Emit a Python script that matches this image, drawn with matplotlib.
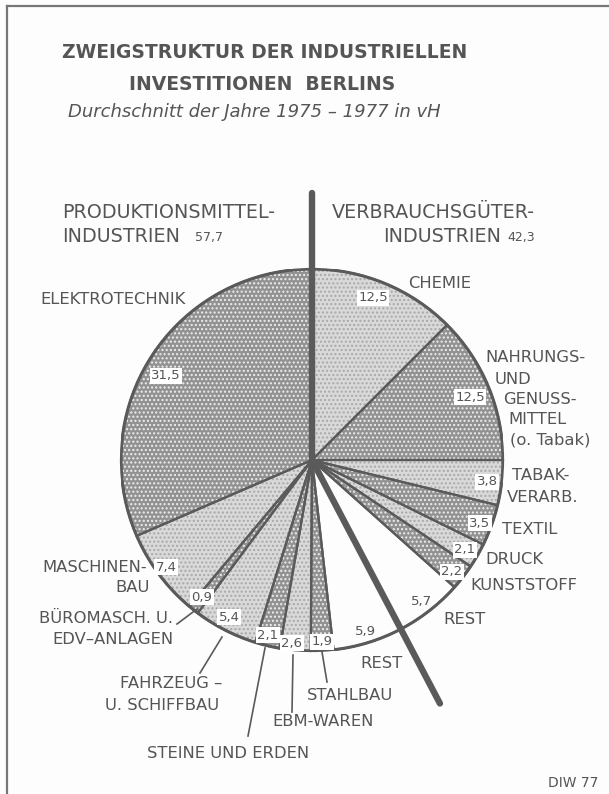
import matplotlib.pyplot as plt
import numpy as np

# Anteile in vH, im Uhrzeigersinn ab 12 Uhr
branchen = ["Chemie", "Nahrungs- und Genussmittel", "Tabakverarb.", "Textil",
            "Druck", "Kunststoff", "Rest (Verbrauch)", "Rest (Produktion)",
            "Stahlbau", "EBM-Waren", "Steine und Erden", "Fahrzeug- u. Schiffbau",
            "Büromasch. u. EDV-Anlagen", "Maschinenbau", "Elektrotechnik"]
anteile = [12.5, 12.5, 3.8, 3.5, 2.1, 2.2, 5.7, 5.9, 1.9, 2.6, 2.1, 5.4, 0.9, 7.4, 31.5]
wertlabels = ["12,5", "12,5", "3,8", "3,5", "2,1", "2,2", "5,7", "5,9",
              "1,9", "2,6", "2,1", "5,4", "0,9", "7,4", "31,5"]
# Raster: d = dunkel, h = hell, w = weiss
raster = ["h", "d", "h", "d", "h", "d", "w", "w", "d", "h", "d", "h", "d", "h", "d"]
gruppen = ["VERBRAUCHSGÜTER", "PRODUKTIONSMITTEL"]
gruppen_anteil = [42.3, 57.7]

TXT = "#555555"
LIN = "#5a5a5a"
fuell = {"d": "#929292", "h": "#d9d9d9", "w": "#fdfdfd"}
punkt = {"d": "#eeeeee", "h": "#a8a8a8", "w": "#fdfdfd"}

plt.rcParams['font.family'] = ['DejaVu Sans']
fig = plt.figure(figsize=(6.09, 7.94), dpi=100)
fig.patch.set_facecolor("#fdfdfd")

# Kreis-Achse
cx, cy, r = 312, 460, 191
ax = fig.add_axes([(cx - r) / 609, (794 - cy - r) / 794, 2 * r / 609, 2 * r / 794])

wedges, _ = ax.pie(anteile, startangle=90, counterclock=False, radius=1,
                   colors=[fuell[k] for k in raster],
                   wedgeprops=dict(linewidth=0))
for w, k in zip(wedges, raster):
    if k != "w":
        w.set_hatch("....")
    w.set_edgecolor(punkt[k])
    w.set_linewidth(0)

ax.pie(anteile, startangle=90, counterclock=False, radius=1,
       colors=["none"] * len(anteile),
       wedgeprops=dict(linewidth=1.6, edgecolor=LIN, fill=False))
kreis = plt.Circle((0, 0), 1, fill=False, lw=2.2, color=LIN)
ax.add_patch(kreis)

# dicke Trennlinien zwischen den Gruppen
for grenze, laenge in [(0, 1.40), (gruppen_anteil[0], 1.44)]:
    th = np.deg2rad(grenze / 100 * 360)
    ax.plot([0, np.sin(th) * laenge], [0, np.cos(th) * laenge], color=LIN,
            lw=4.6, solid_capstyle='round', clip_on=False, zorder=5)

ax.set_xlim(-1, 1)
ax.set_ylim(-1, 1)
ax.axis('off')

# Overlay in Pixelkoordinaten fuer Texte (ueber dem Kreis)
ov = fig.add_axes([0, 0, 1, 1])
ov.set_xlim(0, 609)
ov.set_ylim(794, 0)
ov.axis('off')
ov.set_zorder(3)

# Rahmen
ov.plot([7, 609], [6, 6], color="#777777", lw=1.6)
ov.plot([7, 7], [6, 794], color="#777777", lw=1.6)

# Titel
ov.text(265, 53, "ZWEIGSTRUKTUR DER INDUSTRIELLEN", ha='center', va='center',
        fontsize=13.5, fontweight='bold', color=TXT)
ov.text(262, 84, "INVESTITIONEN  BERLINS", ha='center', va='center',
        fontsize=13.5, fontweight='bold', color=TXT)
ov.text(254, 112, "Durchschnitt der Jahre 1975 – 1977 in vH", ha='center',
        va='center', fontsize=13, style='italic', color=TXT)

# Gruppenueberschriften
ov.text(62, 212, "PRODUKTIONSMITTEL-", ha='left', va='center', fontsize=13.8, color=TXT)
ov.text(62, 236, "INDUSTRIEN", ha='left', va='center', fontsize=13.8, color=TXT)
ov.text(195, 238, str(gruppen_anteil[1]).replace(".", ","), ha='left', va='center',
        fontsize=9, color=TXT)
ov.text(332, 212, "VERBRAUCHSGÜTER-", ha='left', va='center', fontsize=13.8, color=TXT)
ov.text(383, 236, "INDUSTRIEN", ha='left', va='center', fontsize=13.8, color=TXT)
ov.text(507, 238, str(gruppen_anteil[0]).replace(".", ","), ha='left', va='center',
        fontsize=9, color=TXT)

# Wertlabels (Position in Pixeln)
wert_pos = [(373, 298), (470, 397), (487, 482), (480, 523), (465, 550), (452, 572),
            (422, 602), (365, 632), (322, 642), (292, 643), (268, 635), (229, 617),
            (202, 597), (166, 567), (166, 376)]
for lab, (x, y), k in zip(wertlabels, wert_pos, raster):
    box = None if k == "w" else dict(boxstyle='square,pad=0.12', fc='white', ec='none')
    ov.text(x, y, lab, ha='center', va='center', fontsize=9.5, color=TXT,
            bbox=box, zorder=6)

# Branchennamen
namen = [
    (40, 300, "ELEKTROTECHNIK", 'left'),
    (408, 284, "CHEMIE", 'left'),
    (485, 357, "NAHRUNGS-", 'left'),
    (495, 379, "UND", 'left'),
    (503, 400, "GENUSS-", 'left'),
    (508, 420, "MITTEL", 'left'),
    (510, 440, "(o. Tabak)", 'left'),
    (512, 476, "TABAK-", 'left'),
    (507, 497, "VERARB.", 'left'),
    (502, 529, "TEXTIL", 'left'),
    (485, 559, "DRUCK", 'left'),
    (470, 586, "KUNSTSTOFF", 'left'),
    (443, 619, "REST", 'left'),
    (360, 663, "REST", 'left'),
    (307, 695, "STAHLBAU", 'left'),
    (272, 722, "EBM-WAREN", 'left'),
    (147, 753, "STEINE UND ERDEN", 'left'),
    (120, 683, "FAHRZEUG –", 'left'),
    (105, 705, "U. SCHIFFBAU", 'left'),
    (173, 618, "BÜROMASCH. U.", 'right'),
    (173, 639, "EDV–ANLAGEN", 'right'),
    (147, 568, "MASCHINEN-", 'right'),
    (150, 588, "BAU", 'right'),
]
for x, y, s, ha in namen:
    ov.text(x, y, s, ha=ha, va='center', fontsize=11.8, color=TXT)

# Hinweislinien
hinweise = [((322, 652), (327, 682)), ((293, 655), (292, 712)),
            ((265, 648), (248, 736)), ((222, 637), (200, 673)),
            ((197, 609), (177, 624))]
for (x0, y0), (x1, y1) in hinweise:
    ov.plot([x0, x1], [y0, y1], color=LIN, lw=1.2)

ov.text(598, 783, "DIW 77", ha='right', va='center', fontsize=10, color=TXT)

fig.savefig("out.png", dpi=100, facecolor=fig.get_facecolor())
